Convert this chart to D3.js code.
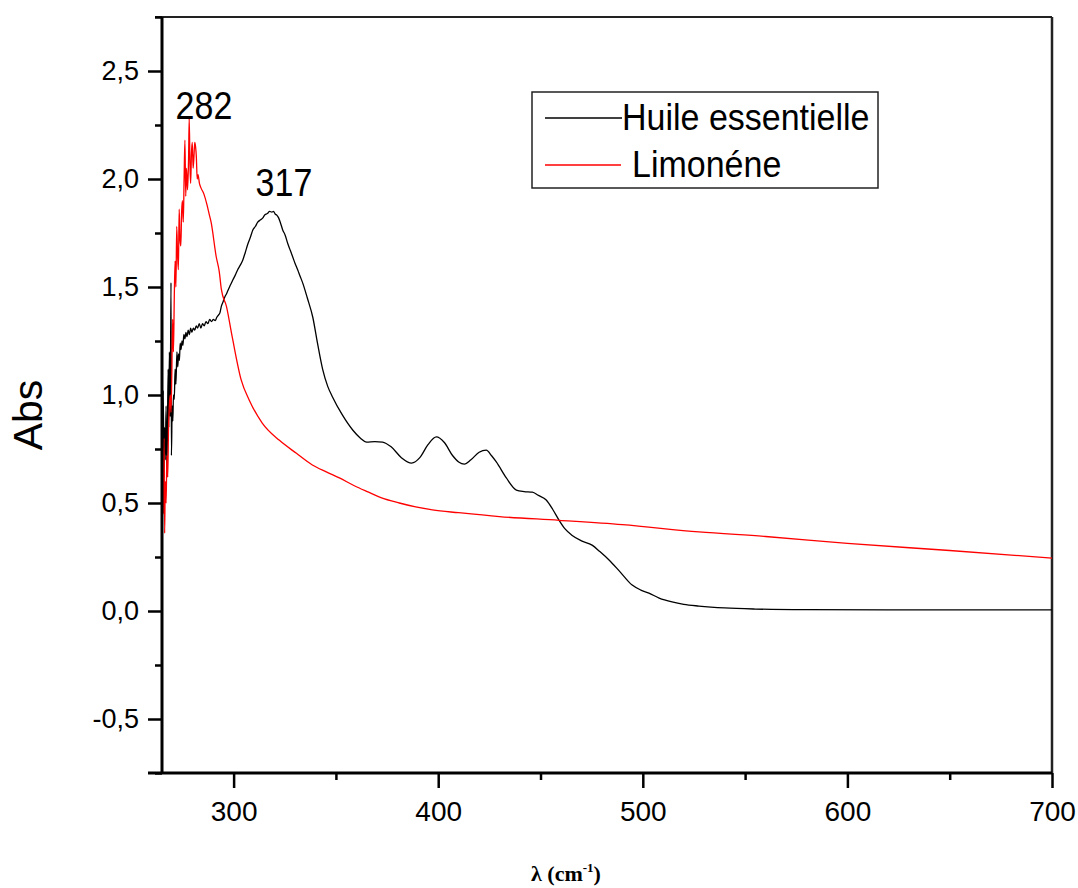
<!DOCTYPE html>
<html>
<head>
<meta charset="utf-8">
<script src="https://cdn.jsdelivr.net/npm/d3@7"></script>
<style>
  body { margin: 0; background: #fff; }
  svg { display: block; }
  .tick-label { font-family: "Liberation Sans", Arial, sans-serif; fill: #000; }
</style>
</head>
<body>
<div id="chart"></div>
<script>
// wavelength (x) and absorbance (y)
const huileX = [265, 265.3, 265.6, 266, 266.3, 266.6, 267, 267.3, 267.6, 268, 268.3, 268.6, 269, 269.4, 269.6, 270, 270.3, 270.6, 271, 271.4, 271.8,
    272.3, 272.7, 273.1, 273.5, 273.9, 274.3, 274.8, 275.2, 275.7, 276.2, 276.7, 277.2, 277.8, 278.4, 279, 279.6, 280.3, 281, 281.7, 282.4,
    283.2, 284, 284.8, 285.6, 286.5, 287.4, 288.3, 289.2, 290.1, 291, 291.8, 292.6, 293.3, 294, 294.8, 295.7, 296.6, 297.5, 298.5, 299.6,
    300.8, 302, 303.2, 304.5, 305.7, 307, 308.2, 309.4, 310.6, 311.8, 313, 314.3, 315.3, 316.5, 317.6, 318.7, 319.5, 320.3, 321.1, 322, 322.8,
    324, 325.2, 326.5, 327.7, 328.9, 330, 331.3, 332.5, 333.8, 336, 338.7, 341, 343.5, 346, 348.4, 353, 358.2, 362, 365, 369, 372.8, 377, 382,
    387, 391, 395, 399.1, 403, 407, 410, 412.8, 416, 420, 423.5, 426, 428.4, 433.3, 438.2, 442, 446, 449, 452.8, 456, 459.1, 462, 465.5, 470,
    475.2, 479, 483.5, 489, 494.8, 499, 503, 508, 514.3, 520, 527.4, 540, 555, 580, 620, 660, 700];
const huileY = [1.18, 0.75, 1.02, 0.62, 0.85, 0.70, 0.95, 0.66, 0.78, 1.12, 0.85, 1.2, 0.9, 1.52, 0.72, 0.95, 0.88, 1.0, 0.98, 1.12, 1.05,
    1.20, 1.13, 1.19, 1.16, 1.24, 1.21, 1.25, 1.23, 1.28, 1.26, 1.29, 1.27, 1.30, 1.28, 1.31, 1.29, 1.31, 1.30, 1.32, 1.31,
    1.33, 1.31, 1.33, 1.32, 1.34, 1.33, 1.35, 1.34, 1.35, 1.345, 1.36, 1.37, 1.38, 1.41, 1.43, 1.454, 1.47, 1.49, 1.51, 1.532,
    1.555, 1.58, 1.60, 1.625, 1.66, 1.70, 1.73, 1.764, 1.78, 1.80, 1.81, 1.82, 1.835, 1.84, 1.85, 1.847, 1.85, 1.838, 1.833, 1.82, 1.80,
    1.764, 1.74, 1.70, 1.67, 1.639, 1.61, 1.58, 1.55, 1.518, 1.45, 1.36, 1.24, 1.12, 1.04, 0.99, 0.91, 0.838, 0.80, 0.782, 0.784, 0.782, 0.76, 0.71,
    0.685, 0.71, 0.77, 0.806, 0.78, 0.72, 0.69, 0.68, 0.70, 0.735, 0.745, 0.72, 0.69, 0.616, 0.56, 0.553, 0.55, 0.535, 0.514, 0.47, 0.42, 0.38, 0.35, 0.325,
    0.305, 0.275, 0.236, 0.18, 0.12, 0.097, 0.083, 0.06, 0.042, 0.031, 0.023, 0.014, 0.009, 0.006, 0.005, 0.005, 0.005];

const limoX = [265, 265.3, 265.6, 266, 266.3, 266.6, 267, 267.4, 267.8, 268.2, 268.6, 269, 269.4, 269.8, 270.2, 270.6, 271, 271.4, 271.8, 272.2, 272.6, 273, 273.4, 273.8, 274.2, 274.6, 275, 275.4, 275.8, 276.2, 276.6, 277, 277.5, 278, 278.3, 278.7, 279, 279.4, 279.8, 280.2, 280.6, 281, 281.4, 281.8, 282.2, 282.6, 283.3, 284, 285.5, 287, 288, 289, 291.5, 293, 294, 296.5, 299.3, 303.7, 307.6, 314, 322.4, 330.7, 338.5, 345.3, 351.7, 359, 366, 372, 381, 389, 397.2, 410, 429.9, 459.1, 490, 527.4, 560, 600, 650, 700];
const limoY = [0.55, 0.78, 0.45, 0.80, 0.36, 0.60, 0.50, 0.72, 0.62, 0.85, 0.95, 1.0, 0.92, 1.1, 1.35, 1.20, 1.45, 1.62, 1.50, 1.78, 1.65, 1.58, 1.86, 1.72, 1.69, 1.85, 1.90, 1.80, 2.0, 2.18, 1.92, 2.05, 1.95, 2.10, 2.28, 2.05, 1.98, 2.12, 2.17, 2.05, 2.10, 2.17, 2.15, 2.10, 2.0, 2.02, 1.98, 1.96, 1.93, 1.88, 1.84, 1.80, 1.64, 1.57, 1.49, 1.41, 1.27, 1.07, 0.977, 0.87, 0.79, 0.73, 0.676, 0.644, 0.616, 0.58, 0.55, 0.525, 0.50, 0.482, 0.468, 0.455, 0.437, 0.42, 0.40, 0.366, 0.345, 0.313, 0.28, 0.245];

const seriesNames = ["Huile essentielle", "Limonéne"];
const seriesColors = ["#000000", "#ff0000"];
const peakLabels = ["282", "317"];
const peakX = [285.5, 324.6];
const peakY = [2.28, 1.92];

const xMajor = [300, 400, 500, 600, 700];
const xMinor = [350, 450, 550, 650];
const yMajor = [-0.5, 0, 0.5, 1, 1.5, 2, 2.5];
const yMinor = [-0.75, -0.25, 0.25, 0.75, 1.25, 1.75, 2.25, 2.75];

const width = 1078, height = 888;
const margin = { left: 162, right: 1052, top: 17, bottom: 773 };

const svg = d3.select("#chart").append("svg")
    .attr("width", width)
    .attr("height", height);

const x = d3.scaleLinear().domain([265, 700]).range([margin.left, margin.right]);
const y = d3.scaleLinear().domain([-0.75, 2.75]).range([margin.bottom, margin.top]);

const fmtY = d => d3.format(".1f")(d).replace(".", ",").replace("\u2212", "-");

// frame: top and right
svg.append("line")
    .attr("x1", margin.left - 7).attr("x2", margin.right)
    .attr("y1", margin.top).attr("y2", margin.top)
    .attr("stroke", "#222").attr("stroke-width", 2);
svg.append("line")
    .attr("x1", margin.right).attr("x2", margin.right)
    .attr("y1", margin.top).attr("y2", margin.bottom)
    .attr("stroke", "#222").attr("stroke-width", 2.5);

// curves
const line = d3.line().x(d => x(d[0])).y(d => y(d[1])).curve(d3.curveMonotoneX);
const series = [d3.zip(huileX, huileY), d3.zip(limoX, limoY)];

svg.append("g")
    .selectAll("path")
    .data(series)
    .join("path")
    .attr("d", line)
    .attr("fill", "none")
    .attr("stroke", (d, i) => seriesColors[i])
    .attr("stroke-width", 1.3)
    .attr("stroke-linejoin", "round");

// y axis
const yAxisG = svg.append("g").attr("transform", `translate(${margin.left},0)`);
yAxisG.call(d3.axisLeft(y).tickValues(yMinor).tickSize(7).tickFormat(""));
yAxisG.call(g => g.append("g").call(d3.axisLeft(y).tickValues(yMajor).tickSize(14).tickFormat(fmtY)));
yAxisG.selectAll(".domain").remove();
yAxisG.selectAll("line").attr("stroke", "#000").attr("stroke-width", 2.5);
yAxisG.selectAll("text")
    .attr("class", "tick-label")
    .attr("x", -23)
    .style("font-size", "27px");
yAxisG.append("line")
    .attr("x1", 0).attr("x2", 0)
    .attr("y1", margin.top).attr("y2", margin.bottom)
    .attr("stroke", "#000").attr("stroke-width", 3);

// x axis
const xAxisG = svg.append("g").attr("transform", `translate(0,${margin.bottom})`);
xAxisG.call(d3.axisBottom(x).tickValues(xMinor).tickSize(7).tickFormat(""));
xAxisG.call(g => g.append("g").call(d3.axisBottom(x).tickValues(xMajor).tickSize(15).tickFormat(d3.format("d"))));
xAxisG.selectAll(".domain").remove();
xAxisG.selectAll("line").attr("stroke", "#000").attr("stroke-width", 2.5);
xAxisG.selectAll("text")
    .attr("class", "tick-label")
    .attr("y", 28)
    .style("font-size", "28px");
xAxisG.append("line")
    .attr("x1", margin.left - 14).attr("x2", margin.right)
    .attr("y1", 0).attr("y2", 0)
    .attr("stroke", "#000").attr("stroke-width", 3);

// axis titles
svg.append("text")
    .attr("transform", "translate(42,415) rotate(-90)")
    .attr("text-anchor", "middle")
    .style("font-family", "Liberation Sans, Arial, sans-serif")
    .style("font-size", "41px")
    .text("Abs");

const xt = svg.append("text")
    .attr("x", 531).attr("y", 881)
    .style("font-family", "Liberation Serif, Times New Roman, serif")
    .style("font-weight", "bold")
    .style("font-size", "22px");
xt.append("tspan").text("λ (cm");
xt.append("tspan").attr("dy", -9).style("font-size", "13px").text("-1");
xt.append("tspan").attr("dy", 9).text(")");

// peak annotations (glyphs a little taller than wide, as in the source)
svg.append("g")
    .selectAll("text")
    .data(peakLabels)
    .join("text")
    .attr("transform", (d, i) => `translate(${x(peakX[i])},${y(peakY[i])}) scale(1,1.15)`)
    .attr("text-anchor", "middle")
    .style("font-family", "Liberation Sans, Arial, sans-serif")
    .style("font-size", "34px")
    .text(d => d);

// legend
const legend = svg.append("g");
legend.append("rect")
    .attr("x", 532).attr("y", 92)
    .attr("width", 346).attr("height", 96)
    .attr("fill", "none")
    .attr("stroke", "#222").attr("stroke-width", 1.5);

const legendRows = legend.selectAll("g.row")
    .data(seriesNames)
    .join("g")
    .attr("class", "row");
legendRows.append("line")
    .attr("x1", 545)
    .attr("x2", (d, i) => i === 0 ? 622 : 621)
    .attr("y1", (d, i) => 118 + i * 47)
    .attr("y2", (d, i) => 118 + i * 47)
    .attr("stroke", (d, i) => seriesColors[i])
    .attr("stroke-width", 1.3);
legendRows.append("text")
    .attr("transform", (d, i) => `translate(${i === 0 ? 622 : 632},${130 + i * 47}) scale(1,1.08)`)
    .style("font-family", "Liberation Sans, Arial, sans-serif")
    .style("font-size", "34px")
    .text(d => d);
</script>
</body>
</html>
